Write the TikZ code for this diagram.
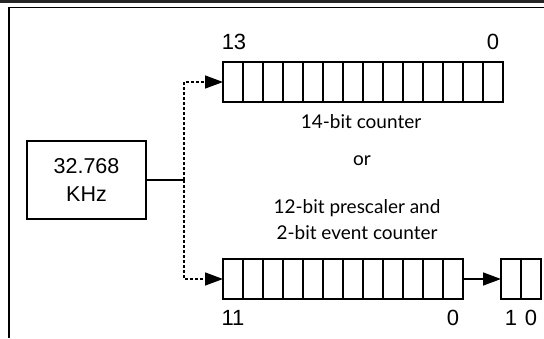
\documentclass[tikz,border=0pt]{standalone}
\usepackage{fontspec}
\setmainfont{Liberation Sans}
\newfontfamily\descfont{Lato}
\usetikzlibrary{arrows.meta,positioning}

\tikzset{
  bitcell/.style={draw, line width=1.4pt, minimum width=20pt, minimum height=40pt, inner sep=0pt, outer sep=0pt},
  clkbox/.style={draw, line width=1.6pt, minimum width=119pt, minimum height=78pt, align=center, font=\fontsize{21.5}{28}\selectfont},
  bitnum/.style={font=\fontsize{22}{25}\selectfont, inner sep=0pt},
  desc/.style={font=\descfont\fontsize{19}{26}\selectfont, align=center, inner sep=0pt},
  feed/.style={line width=1.4pt, dash pattern=on 3pt off 2pt},
  tip/.style={-{Triangle[length=18pt,width=13pt]}}
}

\begin{document}
\begin{tikzpicture}[x=1pt,y=-1pt]
  \useasboundingbox (0,0) rectangle (544,338);
  \fill[black!85] (0,0) rectangle (544,3);
  \draw[line width=1.6pt] (544,7.5) -- (9,7.5) -- (9,338);

  \node[clkbox] (clk) at (86.5,180) {32.768\\KHz};

  \foreach \i in {0,...,13}
    \node[bitcell] (top\i) at (233+20*\i,82) {};
  \foreach \i in {0,...,11}
    \node[bitcell] (pre\i) at (233+20*\i,279) {};
  \foreach \i in {0,1}
    \node[bitcell] (evt\i) at (511+20*\i,279) {};

  \node[bitnum] (n13) at (234,42) {13};
  \node[bitnum] (n0) at (493,42) {0};
  \node[bitnum] (m11) at (233,318) {11};
  \node[bitnum] (m0) at (453,318) {0};
  \node[bitnum] (e1) at (511,318) {1};
  \node[bitnum] (e0) at (531,318) {0};

  \node[desc] (lbltop) at (361,122) {14-bit counter};
  \node[desc] (lblor) at (362,161) {or};
  \node[desc] (lblbot) at (357,220) {12-bit prescaler and\\2-bit event counter};

  \coordinate (split) at (184,180);
  \draw[line width=1.6pt] (clk.east) -- (split);
  \draw[feed, tip] (split) |- (top0.west);
  \draw[feed, tip] (split) |- (pre0.west);
  \draw[line width=1.4pt, tip] (pre11.east) -- (evt0.west);
\end{tikzpicture}
\end{document}
